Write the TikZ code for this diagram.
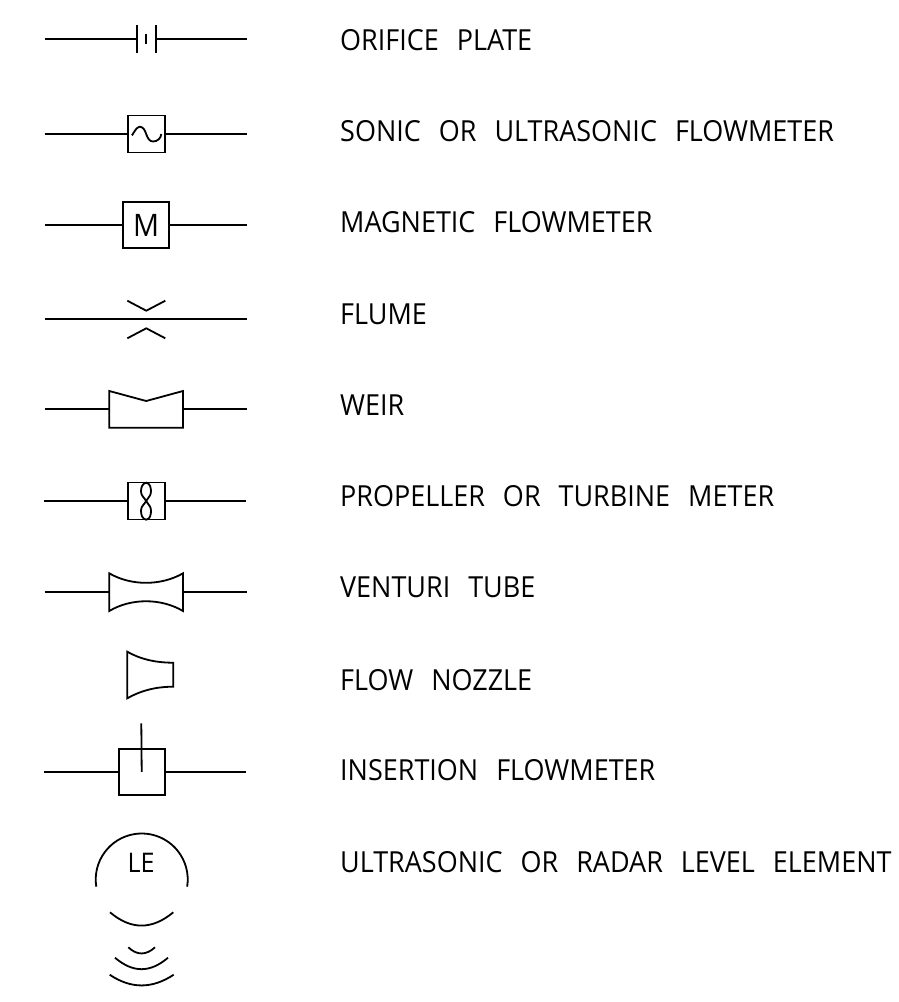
\documentclass[tikz,border=0pt]{standalone}
\usepackage{fontspec}
\setmainfont[FakeStretch=0.93]{Open Sans}
\usetikzlibrary{positioning}
\tikzset{pipe/.style={draw,line width=1.8pt},
         meter/.style={draw,line width=1.8pt,minimum width=37pt,minimum height=37pt,inner sep=0pt},
         caption/.style={anchor=base west,inner sep=0pt,font=\fontsize{29}{29}\selectfont,text=black},
         tag/.style={inner sep=0pt,font=\fontsize{27}{27}\selectfont},
        }
\newcommand{\wordgap}{\hspace{11pt}}

\begin{document}
\begin{tikzpicture}[x=1pt,y=-1pt,line join=miter]
        \useasboundingbox(0,0)rectangle(898,1002);

        % captions
        \node[caption](t1)at(340,50){ORIFICE\wordgap{} PLATE};
        \node[caption](t2)at(340,141){SONIC\wordgap{} OR\wordgap{} ULTRASONIC\wordgap{} FLOWMETER};
        \node[caption](t3)at(340,232.5){MAGNETIC\wordgap{} FLOWMETER};
        \node[caption](t4)at(340,324){FLUME};
        \node[caption](t5)at(340,415){WEIR};
        \node[caption](t6)at(340,506.8){PROPELLER\wordgap{} OR\wordgap{} TURBINE\wordgap{} METER};
        \node[caption](t7)at(340,597.5){VENTURI\wordgap{} TUBE};
        \node[caption](t8)at(340,690){FLOW\wordgap{} NOZZLE};
        \node[caption](t9)at(340,780.7){INSERTION\wordgap{} FLOWMETER};
        \node[caption](t10)at(340,872.3){ULTRASONIC\wordgap{} OR\wordgap{} RADAR\wordgap{} LEVEL\wordgap{} ELEMENT};

        % orifice plate
        \coordinate(a1)at(44.7,39.3);
        \coordinate(b1)at(247,39.3);
        \coordinate(p1)at(136.7,39.3);
        \coordinate(q1)at(155.7,39.3);
        \draw[pipe](a1)--(p1);
        \draw[pipe](q1)--(b1);
        \draw[pipe](136.7,25)--(136.7,53);
        \draw[pipe](155.7,25)--(155.7,53);
        \draw[pipe](146.2,34)--(146.2,44);

        % sonic
        \node[meter](m2)at(146.3,134){};
        \coordinate(a2)at(44.7,134);
        \coordinate(b2)at(247,134);
        \draw[pipe](a2)--(m2);
        \draw[pipe](m2)--(b2);
        \draw[pipe](131.7,134)to[out=-85,in=180](139.5,126.7)to[out=0,in=180](153,141.5)to[out=0,in=-95](161.3,134);

        % magnetic
        \node[meter,minimum size=46pt,font=\fontsize{31}{31}\selectfont](m3)at(146.2,225.3){M};
        \coordinate(a3)at(44.7,225.3);
        \coordinate(b3)at(247,225.3);
        \draw[pipe](a3)--(m3);
        \draw[pipe](m3)--(b3);

        % flume
        \coordinate(a4)at(44.7,319.3);
        \coordinate(b4)at(247,319.3);
        \draw[pipe](a4)--(b4);
        \draw[pipe](127.3,300.7)--(146.3,310.7)--(165.3,300.7);
        \draw[pipe](127.3,338.3)--(146.3,328.3)--(165.3,338.3);

        % weir
        \coordinate(a5)at(44.7,409.3);
        \coordinate(b5)at(247,409.3);
        \coordinate(p5)at(109.3,409.3);
        \coordinate(q5)at(183,409.3);
        \draw[pipe](a5)--(p5);
        \draw[pipe](q5)--(b5);
        \draw[pipe](109.3,391)--(146.2,401)--(183,391)--(183,427.7)--(109.3,427.7)--cycle;

        % propeller
        \node[meter](m6)at(146.3,501){};
        \coordinate(a6)at(43.7,501);
        \coordinate(b6)at(246,501);
        \draw[pipe](a6)--(m6);
        \draw[pipe](m6)--(b6);
        \draw[pipe](146.2,482.7)to[out=-10,in=90](151,491.5)to[out=-90,in=60](146.2,501)
                to[out=-120,in=90](141,510.5)to[out=-90,in=170](146.2,519.7)
                to[out=10,in=-90](151,510.5)to[out=90,in=-60](146.2,501)
                to[out=120,in=-90](141,491.5)to[out=90,in=-170]cycle;

        % venturi
        \coordinate(a7)at(44.7,592);
        \coordinate(b7)at(247,592);
        \coordinate(p7)at(109.3,592);
        \coordinate(q7)at(183,592);
        \draw[pipe](a7)--(p7);
        \draw[pipe](q7)--(b7);
        \draw[pipe](109.3,573.3).. controls (131,586) and (161,586) ..(183,573.3)--(183,611)
                .. controls (161,598) and (131,598) ..(109.3,611)--cycle;

        % nozzle
        \draw[pipe](127.3,651.7).. controls (140,659) and (155,662.7) ..(173.3,662.7)--(173.3,686.7)
                .. controls (155,686.7) and (140,691) ..(127.3,698.3)--cycle;

        % insertion
        \node[meter,minimum size=46pt](m9)at(141.7,771.8){};
        \coordinate(a9)at(43.7,771.8);
        \coordinate(b9)at(246,771.8);
        \coordinate(top9)at(141.3,723.3);
        \draw[pipe](a9)--(m9);
        \draw[pipe](m9)--(b9);
        \draw[pipe](top9)--(m9.center);

        % level element
        \node[tag](le)at(141,863){LE};
        \draw[pipe](96.3,886.7)arc[start angle=171,end angle=369,radius=46];
        \draw[pipe](110,912.3).. controls (131,930) and (152,930) ..(173.3,912.3);
        \draw[pipe](128.3,947.3).. controls (137,955.5) and (146,955.5) ..(155,947.3);
        \draw[pipe](115,957.7).. controls (133,973) and (150,973) ..(168,957.7);
        \draw[pipe](109.7,974.7).. controls (131,989) and (152,989) ..(173.7,974.7);
    \end{tikzpicture}
\end{document}
